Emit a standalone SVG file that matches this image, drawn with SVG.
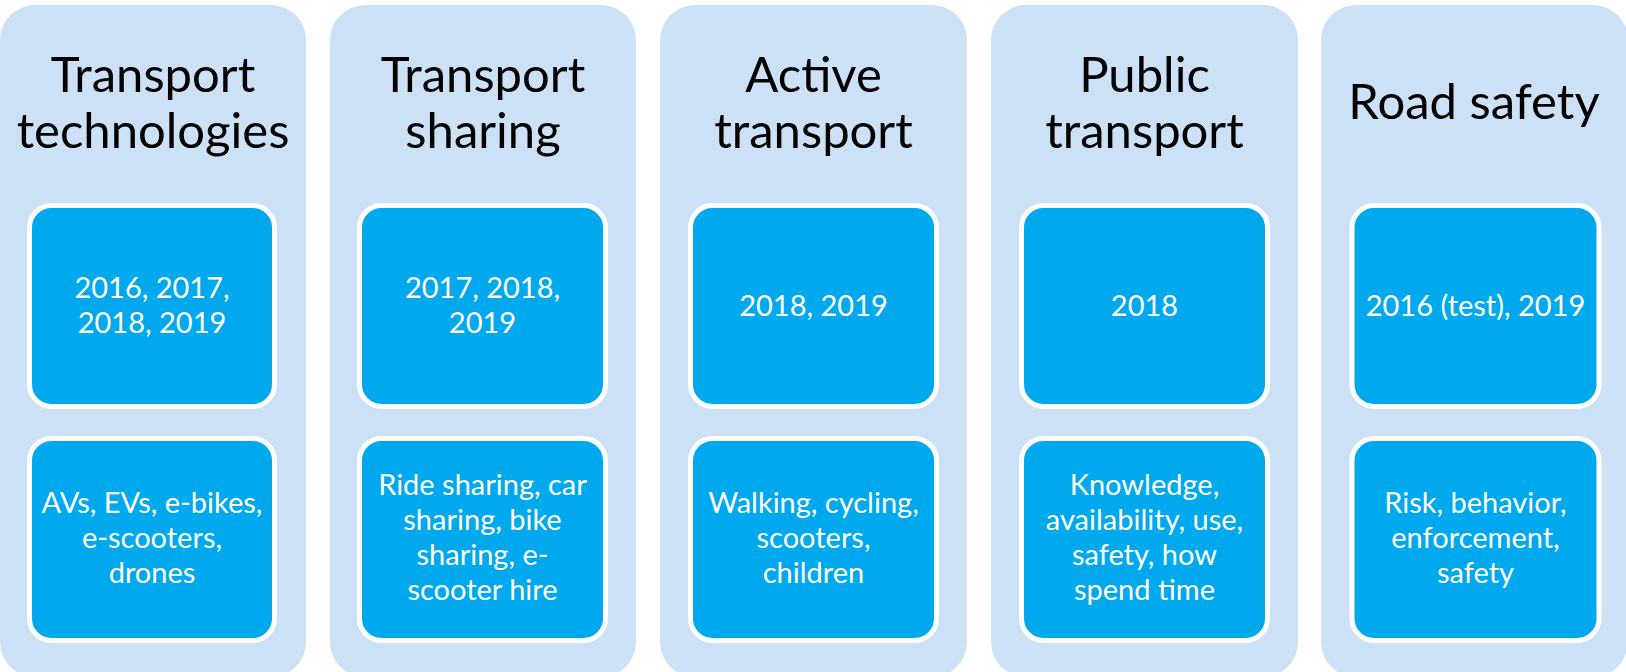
<svg xmlns="http://www.w3.org/2000/svg" width="1626" height="672" viewBox="0 0 1626 672">
<style>
.col{fill:#CCE1F6;}
.box{fill:#00A9ED;stroke:#FFFFFF;stroke-width:5;}
.title{font-family:Lato,"Liberation Sans",sans-serif;font-size:49px;fill:#000000;text-anchor:middle;}
.lbl{font-family:Lato,"Liberation Sans",sans-serif;font-size:29px;fill:#FFFFFF;text-anchor:middle;}
</style>
<rect width="1626" height="672" fill="#FFFFFF"/>
<g id="col1">
<rect class="col" x="0" y="5" width="306" height="672" rx="35"/>
<text class="title" x="153" y="92">Transport</text>
<text class="title" x="153" y="148">technologies</text>
</g>
<g id="col1-years">
<rect class="box" x="29.5" y="205.5" width="245" height="201" rx="22"/>
<text class="lbl" x="152" y="298">2016, 2017,</text>
<text class="lbl" x="152" y="333">2018, 2019</text>
</g>
<g id="col1-topics">
<rect class="box" x="29.5" y="438.5" width="245" height="202" rx="22"/>
<text class="lbl" x="152" y="513">AVs, EVs, e-bikes,</text>
<text class="lbl" x="152" y="548">e-scooters,</text>
<text class="lbl" x="152" y="583">drones</text>
</g>
<g id="col2">
<rect class="col" x="330" y="5" width="306" height="672" rx="35"/>
<text class="title" x="483" y="92">Transport</text>
<text class="title" x="483" y="148">sharing</text>
</g>
<g id="col2-years">
<rect class="box" x="359.5" y="205.5" width="246" height="201" rx="22"/>
<text class="lbl" x="482.5" y="298">2017, 2018,</text>
<text class="lbl" x="482.5" y="333">2019</text>
</g>
<g id="col2-topics">
<rect class="box" x="359.5" y="438.5" width="246" height="202" rx="22"/>
<text class="lbl" x="482.5" y="495">Ride sharing, car</text>
<text class="lbl" x="482.5" y="530">sharing, bike</text>
<text class="lbl" x="482.5" y="565">sharing, e-</text>
<text class="lbl" x="482.5" y="600">scooter hire</text>
</g>
<g id="col3">
<rect class="col" x="660" y="5" width="307" height="672" rx="35"/>
<text class="title" x="813.5" y="92">Active</text>
<text class="title" x="813.5" y="148">transport</text>
</g>
<g id="col3-years">
<rect class="box" x="690.5" y="205.5" width="246" height="201" rx="22"/>
<text class="lbl" x="813.5" y="316">2018, 2019</text>
</g>
<g id="col3-topics">
<rect class="box" x="690.5" y="438.5" width="246" height="202" rx="22"/>
<text class="lbl" x="813.5" y="513">Walking, cycling,</text>
<text class="lbl" x="813.5" y="548">scooters,</text>
<text class="lbl" x="813.5" y="583">children</text>
</g>
<g id="col4">
<rect class="col" x="991" y="5" width="307" height="672" rx="35"/>
<text class="title" x="1144.5" y="92">Public</text>
<text class="title" x="1144.5" y="148">transport</text>
</g>
<g id="col4-years">
<rect class="box" x="1021.5" y="205.5" width="246" height="201" rx="22"/>
<text class="lbl" x="1144.5" y="316">2018</text>
</g>
<g id="col4-topics">
<rect class="box" x="1021.5" y="438.5" width="246" height="202" rx="22"/>
<text class="lbl" x="1144.5" y="495">Knowledge,</text>
<text class="lbl" x="1144.5" y="530">availability, use,</text>
<text class="lbl" x="1144.5" y="565">safety, how</text>
<text class="lbl" x="1144.5" y="600">spend time</text>
</g>
<g id="col5">
<rect class="col" x="1321" y="5" width="307" height="672" rx="35"/>
<text class="title" x="1474" y="119">Road safety</text>
</g>
<g id="col5-years">
<rect class="box" x="1352" y="205.5" width="247" height="201" rx="22"/>
<text class="lbl" x="1475.5" y="316">2016 (test), 2019</text>
</g>
<g id="col5-topics">
<rect class="box" x="1352" y="438.5" width="247" height="202" rx="22"/>
<text class="lbl" x="1475.5" y="513">Risk, behavior,</text>
<text class="lbl" x="1475.5" y="548">enforcement,</text>
<text class="lbl" x="1475.5" y="583">safety</text>
</g>
<g id="connectors"></g>
</svg>
